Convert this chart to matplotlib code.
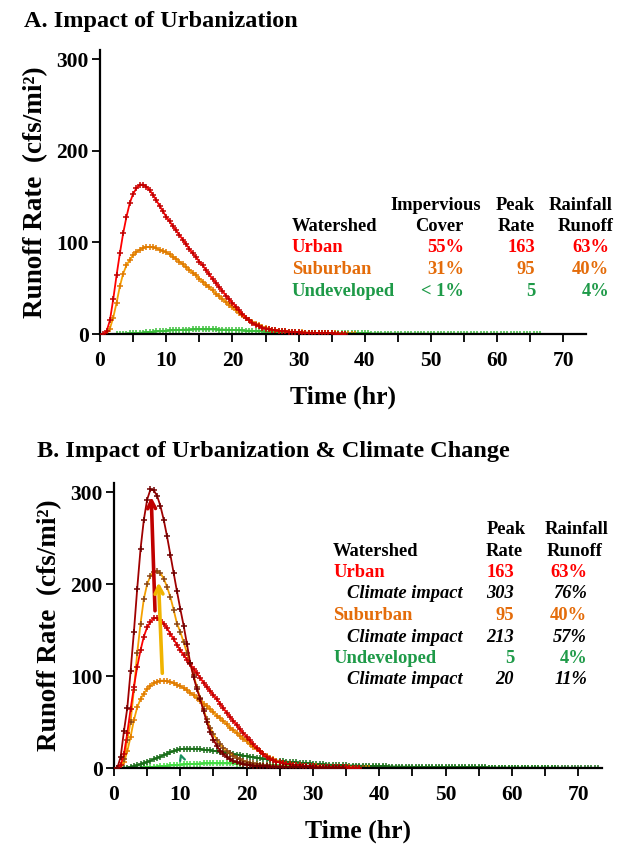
import matplotlib
matplotlib.use("Agg")
import matplotlib.pyplot as plt
import numpy as np
from matplotlib.ticker import MultipleLocator

plt.rcParams['font.family'] = ['Liberation Serif', 'DejaVu Serif']
plt.rcParams['font.weight'] = 'bold'

# hydrographs, one value every 0.5 hr from the given start time
dt = 0.5

urban_start = 0.5
urban = [0, 3, 15, 38, 64, 88, 110, 128, 143, 153, 159, 163, 163, 161, 157, 152, 146, 140, 134, 128,
         123, 118, 113, 108, 103, 98, 93, 88, 84, 79, 75, 70, 65, 60, 56, 51, 47, 42, 38, 34,
         30, 26, 22, 18, 15, 12, 10, 8.5, 7, 6, 5.2, 4.5, 4, 3.5, 3.1, 2.8, 2.5, 2.2, 2, 1.8,
         1.6, 1.4, 1.3, 1.2, 1.1, 1, 0.9, 0.8, 0.7, 0.6, 0.5, 0.4, 0.3, 0.2]

suburban_start = 1.0
suburban = [0, 6, 18, 34, 52, 66, 75, 81, 86, 89.5, 92, 94, 95, 95, 94.5, 93.5, 92, 90.5, 89, 87,
            84.5, 82, 79, 76, 73, 70, 67, 64, 60.5, 57, 54, 51, 47.5, 44, 41, 38, 35, 32, 29, 26,
            23, 20.5, 18, 15.5, 13, 11, 9.3, 7.8, 6.5, 5.5, 4.7, 4.1, 3.6, 3.2, 2.9, 2.6, 2.3, 2.1, 1.9, 1.7,
            1.6, 1.4, 1.3, 1.2, 1.1, 1, 0.9, 0.8, 0.7, 0.6, 0.5, 0.4, 0.35, 0.3, 0.2, 0.1]

undev_start = 2.5
undev = [0, 0.1, 0.2, 0.4, 0.6, 0.8, 1.0, 1.3, 1.6, 1.9, 2.2, 2.5, 2.8, 3.1, 3.4, 3.6, 3.9, 4.1, 4.3, 4.5,
         4.6, 4.8, 4.9, 5.0, 5.0, 5.1, 5.1, 5.1, 5.1, 5.0, 5.0, 4.9, 4.8, 4.7, 4.6, 4.4, 4.3, 4.1, 3.9, 3.8,
         3.6, 3.4, 3.2, 3.0, 2.9, 2.7, 2.5, 2.4, 2.2, 2.1, 1.9, 1.8, 1.7, 1.6, 1.5, 1.4, 1.35, 1.3, 1.25, 1.2,
         1.15, 1.1, 1.05, 1.0, 0.95, 0.9, 0.86, 0.82, 0.78, 0.75, 0.72, 0.69, 0.66, 0.63, 0.6, 0.58, 0.56, 0.54, 0.52, 0.5,
         0.48, 0.46, 0.44, 0.42, 0.4, 0.38, 0.36, 0.35, 0.34, 0.32, 0.31, 0.3, 0.28, 0.27, 0.26, 0.25, 0.24, 0.23, 0.22, 0.21,
         0.2, 0.19, 0.18, 0.17, 0.16, 0.15, 0.14, 0.13, 0.12, 0.12, 0.11, 0.1, 0.1, 0.09, 0.08, 0.08, 0.07, 0.07, 0.06, 0.06,
         0.05, 0.05, 0.04, 0.04, 0.03, 0.03, 0.02, 0.02, 0.01]

urban_cc_start = 0.5
urban_cc = [0, 12, 40, 65, 105, 148, 195, 238, 270, 292, 303, 302, 296, 285, 270, 252, 232, 212, 192, 173,
            155, 135, 114, 99, 86, 75, 62, 50, 39, 31, 24, 19, 15, 12, 9.5, 7.5, 6, 5, 4.2, 3.6,
            3.1, 2.7, 2.4, 2.1, 1.9, 1.7, 1.5, 1.4, 1.3, 1.2, 1.1, 1.0, 0.9, 0.8, 0.75, 0.7, 0.65, 0.6, 0.55, 0.5,
            0.45, 0.4, 0.35, 0.3, 0.25, 0.2, 0.15, 0.1, 0.05]

suburban_cc_start = 1.0
suburban_cc = [0, 10, 30, 50, 85, 125, 157, 184, 200, 209, 213, 214, 212, 206, 197, 186, 172, 157, 148, 137,
               125, 114, 101, 88, 76, 64, 53, 44, 37, 31, 26, 22, 19, 16, 13, 11, 9.3, 8, 6.8, 5.8,
               5, 4.3, 3.7, 3.2, 2.8, 2.5, 2.2, 2.0, 1.8, 1.6, 1.5, 1.4, 1.3, 1.2, 1.1, 1.0, 0.9, 0.85, 0.8, 0.75,
               0.7, 0.65, 0.6, 0.55, 0.5, 0.45, 0.4, 0.35, 0.3, 0.25, 0.2, 0.15, 0.1, 0.05]

undev_cc_start = 1.5
undev_cc = [0, 0.5, 1, 1.8, 2.8, 4, 5.2, 6.5, 8, 9.5, 11, 12.5, 14, 15.5, 17, 18.5, 19.5, 20.3, 20.8, 21,
            21, 20.9, 20.7, 20.4, 20, 19.6, 19.1, 18.6, 18.1, 17.5, 17, 16.4, 15.8, 15.2, 14.6, 14, 13.4, 12.8, 12.2, 11.6,
            11, 10.5, 10, 9.5, 9, 8.5, 8.1, 7.7, 7.3, 6.9, 6.6, 6.3, 6.0, 5.7, 5.4, 5.1, 4.9, 4.6, 4.4, 4.2,
            4.0, 3.8, 3.6, 3.4, 3.3, 3.1, 3.0, 2.8, 2.7, 2.6, 2.5, 2.4, 2.3, 2.2, 2.1, 2.0, 1.9, 1.8, 1.75, 1.7,
            1.6, 1.55, 1.5, 1.45, 1.4, 1.35, 1.3, 1.25, 1.2, 1.15, 1.1, 1.05, 1.0, 0.97, 0.94, 0.91, 0.88, 0.85, 0.82, 0.79,
            0.76, 0.73, 0.7, 0.68, 0.66, 0.64, 0.62, 0.6, 0.58, 0.56, 0.54, 0.52, 0.5, 0.48, 0.46, 0.45, 0.44, 0.42, 0.41, 0.4,
            0.38, 0.37, 0.36, 0.35, 0.34, 0.33, 0.32, 0.31, 0.3, 0.29, 0.28, 0.27, 0.26, 0.25, 0.24, 0.23, 0.22, 0.21, 0.2, 0.19,
            0.18, 0.17, 0.16, 0.15]

# table text
tableA_header1 = ["Impervious", "Peak", "Rainfall"]
tableA_header2 = ["Watershed", "Cover", "Rate", "Runoff"]
tableA_rows = [["Urban", "55%", "163", "63%"],
               ["Suburban", "31%", "95", "40%"],
               ["Undeveloped", "< 1%", "5", "4%"]]

tableB_header1 = ["Peak", "Rainfall"]
tableB_header2 = ["Watershed", "Rate", "Runoff"]
tableB_rows = [["Urban", "163", "63%"],
               ["Climate impact", "303", "76%"],
               ["Suburban", "95", "40%"],
               ["Climate impact", "213", "57%"],
               ["Undeveloped", "5", "4%"],
               ["Climate impact", "20", "11%"]]

RED = '#ff0000'
ORANGE = '#f5a000'
GREEN = '#22aa22'
LGREEN = '#33cc33'
DRED = '#a00000'
DGREEN = '#1e7b1e'
TXT_RED = '#ff0000'
TXT_ORANGE = '#e46c0a'
TXT_GREEN = '#1e9a48'

W, H = 620, 844
fig = plt.figure(figsize=(W / 100, H / 100), dpi=100)


def fx(x):
    return x / W


def fy(y):
    return 1 - y / H


def series(start, vals):
    return start + dt * np.arange(len(vals)), np.array(vals)


def hydro(ax, start, vals, color, mcolor, z=2):
    t, v = series(start, vals)
    ax.plot(t, v, color=color, lw=1.3, marker='+', ms=4, mew=1.1, mec=mcolor, zorder=z)


def style_axes(ax, xmax):
    ax.set_xlim(0, xmax)
    ax.set_ylim(0, 310)
    ax.spines['top'].set_visible(False)
    ax.spines['right'].set_visible(False)
    ax.spines['left'].set_linewidth(1.6)
    ax.spines['bottom'].set_linewidth(1.6)
    ax.xaxis.set_major_locator(MultipleLocator(10))
    ax.xaxis.set_minor_locator(MultipleLocator(5))
    ax.yaxis.set_major_locator(MultipleLocator(100))
    ax.tick_params(which='both', direction='out', length=6, width=1.3)
    ax.tick_params(axis='x', labelsize=15.5, pad=6)
    ax.tick_params(axis='y', labelsize=15.5, pad=2)
    for lab in ax.get_xticklabels() + ax.get_yticklabels():
        lab.set_fontweight('bold')
    ax.set_xlabel("Time (hr)", fontsize=18.5, fontweight='bold', labelpad=11)
    ax.set_ylabel("Runoff Rate  (cfs/mi²)", fontsize=19.5, fontweight='bold', labelpad=6)


# ---- panel A
axA = fig.add_axes([fx(100), fy(334), fx(486), 284 / H])
hydro(axA, undev_start, undev, GREEN, '#3cc03c', 1)
hydro(axA, suburban_start, suburban, ORANGE, '#e07b00', 2)
hydro(axA, urban_start, urban, RED, '#c00000', 3)
style_axes(axA, 73.4)
fig.text(fx(24), fy(21), "A. Impact of Urbanization", fontsize=17.5, fontweight='bold', va='center')

fsT = 13.3
rowsA_y = [205, 226.5, 248, 269.5, 291]
fig.text(fx(481), fy(rowsA_y[0]), tableA_header1[0], fontsize=fsT, ha='right', va='center')
fig.text(fx(535), fy(rowsA_y[0]), tableA_header1[1], fontsize=fsT, ha='right', va='center')
fig.text(fx(613), fy(rowsA_y[0]), tableA_header1[2], fontsize=fsT, ha='right', va='center')
fig.text(fx(292), fy(rowsA_y[1]), tableA_header2[0], fontsize=fsT, ha='left', va='center')
fig.text(fx(464), fy(rowsA_y[1]), tableA_header2[1], fontsize=fsT, ha='right', va='center')
fig.text(fx(535), fy(rowsA_y[1]), tableA_header2[2], fontsize=fsT, ha='right', va='center')
fig.text(fx(614), fy(rowsA_y[1]), tableA_header2[3], fontsize=fsT, ha='right', va='center')
for row, yy, c in zip(tableA_rows, rowsA_y[2:], [TXT_RED, TXT_ORANGE, TXT_GREEN]):
    fig.text(fx(292), fy(yy), row[0], fontsize=fsT, color=c, ha='left', va='center')
    fig.text(fx(464), fy(yy), row[1], fontsize=fsT, color=c, ha='right', va='center')
    fig.text(fx(535), fy(yy), row[2], fontsize=fsT, color=c, ha='right', va='center')
    fig.text(fx(609), fy(yy), row[3], fontsize=fsT, color=c, ha='right', va='center')

# ---- panel B
axB = fig.add_axes([fx(114), fy(768), fx(488), 285 / H])
hydro(axB, undev_start, undev, LGREEN, '#44dd44', 1)
hydro(axB, undev_cc_start, undev_cc, DGREEN, '#1a6e1a', 1)
hydro(axB, suburban_start, suburban, ORANGE, '#e07b00', 2)
hydro(axB, urban_start, urban, RED, '#c00000', 3)
hydro(axB, suburban_cc_start, suburban_cc, ORANGE, '#8b4513', 2)
hydro(axB, urban_cc_start, urban_cc, DRED, '#700000', 3)
style_axes(axB, 73.6)

axB.annotate('', xy=(5.6, 298), xytext=(6.2, 168),
             arrowprops=dict(arrowstyle='->', lw=2.6, color='#c00000', mutation_scale=14), zorder=5)
axB.annotate('', xy=(6.7, 205), xytext=(7.3, 100),
             arrowprops=dict(arrowstyle='->', lw=2.6, color='#f0b400', mutation_scale=14), zorder=5)
axB.annotate('', xy=(9.85, 19), xytext=(10.3, 9),
             arrowprops=dict(arrowstyle='->', lw=1.6, color='#1a9060', mutation_scale=9), zorder=5)

fig.text(fx(37), fy(452), "B. Impact of Urbanization & Climate Change", fontsize=17.5,
         fontweight='bold', va='center')

rowsB_y = [530, 551, 572.5, 594, 615.5, 637, 658.5, 680]
fig.text(fx(506), fy(rowsB_y[0]), tableB_header1[0], fontsize=fsT, ha='center', va='center')
fig.text(fx(577), fy(rowsB_y[0]), tableB_header1[1], fontsize=fsT, ha='center', va='center')
fig.text(fx(333), fy(rowsB_y[1]), tableB_header2[0], fontsize=fsT, ha='left', va='center')
fig.text(fx(504), fy(rowsB_y[1]), tableB_header2[1], fontsize=fsT, ha='center', va='center')
fig.text(fx(575), fy(rowsB_y[1]), tableB_header2[2], fontsize=fsT, ha='center', va='center')
row_colors = [TXT_RED, 'black', TXT_ORANGE, 'black', TXT_GREEN, 'black']
for i, (row, yy, c) in enumerate(zip(tableB_rows, rowsB_y[2:], row_colors)):
    italic = 'italic' if i % 2 == 1 else 'normal'
    x0 = 347 if i % 2 == 1 else 333
    fig.text(fx(x0), fy(yy), row[0], fontsize=fsT, color=c, ha='left', va='center', style=italic)
    fig.text(fx(514), fy(yy), row[1], fontsize=fsT, color=c, ha='right', va='center', style=italic)
    fig.text(fx(587), fy(yy), row[2], fontsize=fsT, color=c, ha='right', va='center', style=italic)

fig.savefig("out.png", dpi=100)
